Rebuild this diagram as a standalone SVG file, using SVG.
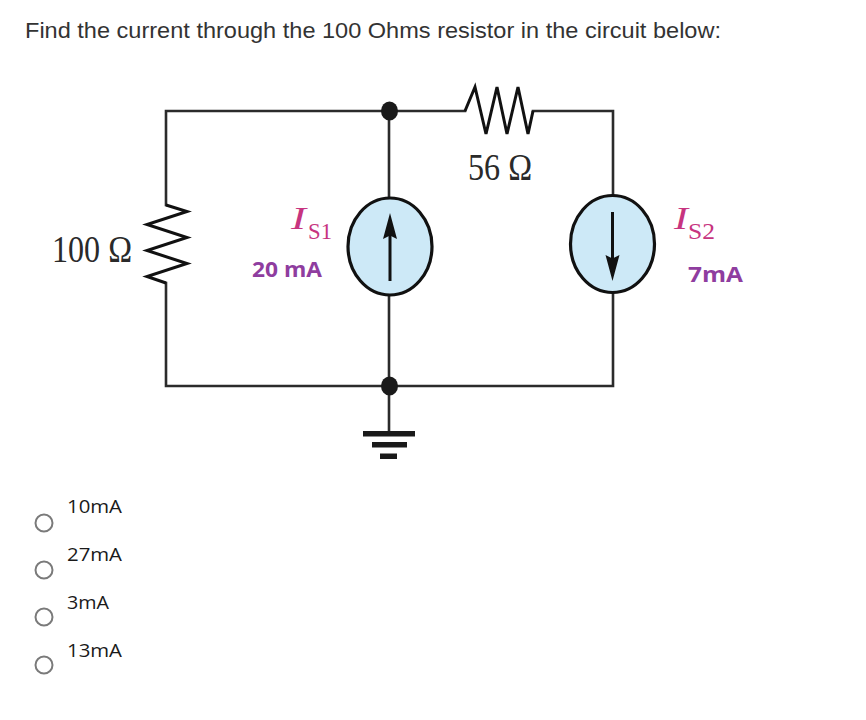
<svg xmlns="http://www.w3.org/2000/svg" width="866" height="720" viewBox="0 0 866 720">
<style>
.wire{fill:none;stroke:#2b2b2b;stroke-width:2.6;stroke-linecap:square}
.res{fill:none;stroke:#111;stroke-width:3;stroke-linejoin:miter}
.src{fill:#cde9f7;stroke:#111;stroke-width:3.2}
.arr{stroke:#111;stroke-width:3}
.dot{fill:#1a1a1a}
.val{font-family:"Liberation Serif","Times New Roman",serif;fill:#2a2a2a;font-size:37px}
.sym{font-family:"Liberation Serif","Times New Roman",serif;fill:#c7347f}
.amp{font-family:"Open Sans","Noto Sans",sans-serif;font-weight:bold;font-size:22px;fill:#8f3d9f}
.opt{font-family:"Open Sans","Noto Sans",sans-serif;font-size:18px;fill:#1a1a1a}
.radio{fill:#fff;stroke:#7a7a7a;stroke-width:2}
</style>
<rect width="866" height="720" fill="#fff"/>
<text x="25" y="38" font-family="'Liberation Sans',Arial,sans-serif" font-size="21.5" fill="#333" textLength="696" lengthAdjust="spacingAndGlyphs">Find the current through the 100 Ohms resistor in the circuit below:</text>

<g id="connectors">
<polyline class="wire" points="465,111 389,111 166,111 166,205"/>
<polyline class="wire" points="533,111 613,111 613,195"/>
<polyline class="wire" points="166,283 166,386 613,386 613,293"/>
<line class="wire" x1="389" y1="111" x2="389" y2="198"/>
<line class="wire" x1="389" y1="295" x2="389" y2="432"/>
</g>

<g id="node-top"><ellipse class="dot" cx="389.5" cy="111" rx="8.5" ry="9.5"/></g>
<g id="node-bottom"><ellipse class="dot" cx="389.5" cy="386" rx="8.5" ry="9.5"/></g>

<g id="R100">
<polyline class="res" points="166,205 187,211.5 147,224.5 187,237.5 147,250.5 187,263.5 147,276.5 166,283"/>
<text class="val" x="52" y="262" textLength="80" lengthAdjust="spacingAndGlyphs">100 Ω</text>
</g>

<g id="R56">
<polyline class="res" points="465,111 475,87 486,134 497,87 507,134 518,87 528,134 533,111"/>
<text class="val" x="468" y="180" textLength="64" lengthAdjust="spacingAndGlyphs">56 Ω</text>
</g>

<g id="IS1">
<ellipse class="src" cx="390" cy="246.5" rx="42" ry="48.5"/>
<line class="arr" x1="390" y1="281" x2="390" y2="234"/>
<polygon fill="#111" points="390,213 397,239 390,235.5 383,239"/>
<text class="sym" x="291" y="229" font-size="31" font-style="italic" textLength="15" lengthAdjust="spacingAndGlyphs">I</text>
<text class="sym" x="308" y="239" font-size="24" textLength="24" lengthAdjust="spacingAndGlyphs">S1</text>
<text class="amp" x="252" y="277" textLength="70" lengthAdjust="spacingAndGlyphs">20 mA</text>
</g>

<g id="IS2">
<ellipse class="src" cx="612.5" cy="244" rx="42" ry="48.5"/>
<line class="arr" x1="612.5" y1="212" x2="612.5" y2="260"/>
<polygon fill="#111" points="612.5,281 619.5,255 612.5,258.5 605.5,255"/>
<text class="sym" x="674" y="229" font-size="31" font-style="italic" textLength="14" lengthAdjust="spacingAndGlyphs">I</text>
<text class="sym" x="688" y="239" font-size="24" textLength="27" lengthAdjust="spacingAndGlyphs">S2</text>
<text class="amp" x="688" y="282" textLength="55" lengthAdjust="spacingAndGlyphs">7mA</text>
</g>

<g id="ground">
<rect x="363" y="431" width="52" height="5.5" fill="#1a1a1a"/>
<rect x="372" y="442" width="35" height="5.5" fill="#1a1a1a"/>
<rect x="380" y="453.5" width="17" height="5.5" fill="#1a1a1a"/>
</g>

<g id="options">
<circle class="radio" cx="44" cy="523" r="8.5"/>
<text class="opt" x="67" y="513" textLength="55" lengthAdjust="spacingAndGlyphs">10mA</text>
<circle class="radio" cx="44" cy="570" r="8.5"/>
<text class="opt" x="67" y="561" textLength="55" lengthAdjust="spacingAndGlyphs">27mA</text>
<circle class="radio" cx="44" cy="617" r="8.5"/>
<text class="opt" x="67" y="609" textLength="42" lengthAdjust="spacingAndGlyphs">3mA</text>
<circle class="radio" cx="44" cy="665" r="8.5"/>
<text class="opt" x="67" y="657" textLength="55" lengthAdjust="spacingAndGlyphs">13mA</text>
</g>
</svg>
